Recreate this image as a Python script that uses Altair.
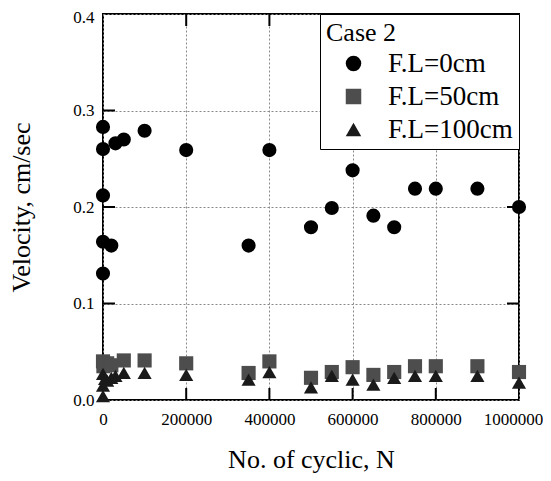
import altair as alt
import pandas as pd

series_names = ["F.L=0cm", "F.L=50cm", "F.L=100cm"]

N0 = [0, 0, 0, 0, 0, 20000, 30000, 50000, 100000, 200000, 350000, 400000,
      500000, 550000, 600000, 650000, 700000, 750000, 800000, 900000, 1000000]
V0 = [0.283, 0.260, 0.212, 0.164, 0.131, 0.160, 0.266, 0.270, 0.279, 0.259, 0.160, 0.259,
      0.179, 0.199, 0.238, 0.191, 0.179, 0.219, 0.219, 0.219, 0.200]

N50 = [0, 1000, 10000, 20000, 50000, 100000, 200000, 350000, 400000, 500000,
       550000, 600000, 650000, 700000, 750000, 800000, 900000, 1000000]
V50 = [0.040, 0.035, 0.038, 0.036, 0.041, 0.041, 0.038, 0.028, 0.040, 0.023,
       0.029, 0.034, 0.026, 0.029, 0.035, 0.035, 0.035, 0.029]

N100 = [0, 0, 0, 5000, 10000, 20000, 30000, 50000, 100000, 200000, 350000, 400000,
        500000, 550000, 600000, 650000, 700000, 750000, 800000, 900000, 1000000]
V100 = [0.004, 0.015, 0.027, 0.022, 0.020, 0.023, 0.025, 0.028, 0.028, 0.026, 0.021, 0.029,
        0.013, 0.025, 0.021, 0.016, 0.023, 0.025, 0.025, 0.025, 0.018]

x_ticks = [0, 200000, 400000, 600000, 800000, 1000000]
y_ticks = [0.0, 0.1, 0.2, 0.3, 0.4]
inner_x_ticks = [200000, 400000, 600000, 800000]
inner_y_ticks = [0.1, 0.2, 0.3]

rows = []
for name, ns, vs in zip(series_names, [N0, N50, N100], [V0, V50, V100]):
    for n, v in zip(ns, vs):
        rows.append({"N": n, "V": v, "series": name})
df = pd.DataFrame(rows)

W, H = 416, 386
FONT = "Liberation Serif"
XT = "No. of cyclic, N"
YT = "Velocity, cm/sec"

xscale = alt.Scale(domain=[0, 1000000], nice=False)
yscale = alt.Scale(domain=[0, 0.4], nice=False)

common_axis = dict(labelFont=FONT, titleFont=FONT, labelFontSize=17, titleFontSize=26,
                   labelColor="black", titleColor="black", titleFontWeight="normal",
                   labelFlush=False, tickSize=0, domain=False,
                   grid=True, gridDash=[2, 2], gridColor="#888888", gridWidth=1)

points = alt.Chart(df).mark_point(filled=True, size=200, opacity=1).encode(
    x=alt.X("N:Q", scale=xscale, title=XT,
            axis=alt.Axis(values=x_ticks, format="d", title=XT,
                          labelOffset={"condition": {"test": "datum.value >= 1000000", "value": -6},
                                       "value": 0},
                          labelPadding=11, titlePadding=19, **common_axis)),
    y=alt.Y("V:Q", scale=yscale, title=YT,
            axis=alt.Axis(values=y_ticks, format=".1f", title=YT,
                          labelOffset={"condition": {"test": "datum.value >= 0.4", "value": 3},
                                       "value": 0},
                          labelPadding=9, titlePadding=38, **common_axis)),
    shape=alt.Shape("series:N",
                    scale=alt.Scale(domain=series_names,
                                    range=["circle", "square", "triangle-up"]),
                    legend=alt.Legend(title="Case 2")),
    color=alt.Color("series:N",
                    scale=alt.Scale(domain=series_names,
                                    range=["#000000", "#4d4d4d", "#1a1a1a"]),
                    legend=alt.Legend(title="Case 2")),
)

ydf = pd.DataFrame({"V": inner_y_ticks})
xdf = pd.DataFrame({"N": inner_x_ticks})

tick_l = alt.Chart(ydf).mark_rule(color="black", strokeWidth=2).encode(
    y=alt.Y("V:Q", scale=yscale, title=YT), x=alt.value(0), x2=alt.value(12))
tick_r = alt.Chart(ydf).mark_rule(color="black", strokeWidth=2).encode(
    y=alt.Y("V:Q", scale=yscale, title=YT), x=alt.value(W - 12), x2=alt.value(W))
tick_b = alt.Chart(xdf).mark_rule(color="black", strokeWidth=2).encode(
    x=alt.X("N:Q", scale=xscale, title=XT), y=alt.value(H - 12), y2=alt.value(H))
tick_t = alt.Chart(xdf).mark_rule(color="black", strokeWidth=2).encode(
    x=alt.X("N:Q", scale=xscale, title=XT), y=alt.value(0), y2=alt.value(12))

chart = alt.layer(points, tick_l, tick_r, tick_b, tick_t).properties(
    width=W, height=H,
    autosize=alt.AutoSizeParams(type="none"),
    padding={"left": 95, "top": 6, "right": 24, "bottom": 73},
).configure_view(
    stroke="black", strokeWidth=2
).configure_axis(
    labelFont=FONT, titleFont=FONT,
).configure_legend(
    orient="top-right", offset=0,
    strokeColor="black", fillColor="white", padding=6,
    titleFont=FONT, labelFont=FONT, titleFontSize=26, labelFontSize=27,
    titleFontWeight="normal", titleColor="black", labelColor="black",
    symbolSize=240, symbolOffset=14, labelOffset=21, rowPadding=5, titlePadding=4,
    symbolStrokeWidth=0,
)

chart.save("out.html", embed_options={"renderer": "svg", "actions": False})
